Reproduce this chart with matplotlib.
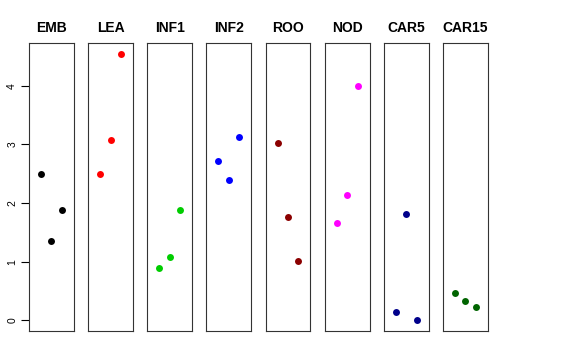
import matplotlib
matplotlib.use("Agg")
import matplotlib.pyplot as plt

# --- data ---
panels = ["EMB", "LEA", "INF1", "INF2", "ROO", "NOD", "CAR5", "CAR15"]
colors = ["#000000", "#FF0000", "#00CD00", "#0000FF", "#8B0000", "#FF00FF", "#00008B", "#006400"]
x_pos = [1, 2, 3]
emb = [2.50, 1.36, 1.89]
lea = [2.50, 3.07, 4.55]
inf1 = [0.89, 1.08, 1.89]
inf2 = [2.71, 2.39, 3.13]
roo = [3.03, 1.76, 1.02]
nod = [1.66, 2.13, 3.99]
car5 = [0.15, 1.81, 0.00]
car15 = [0.47, 0.33, 0.23]
series = [emb, lea, inf1, inf2, roo, nod, car5, car15]
y_ticks = [0, 1, 2, 3, 4]

plt.rcParams['font.family'] = ['Liberation Sans', 'DejaVu Sans']

fig, axes = plt.subplots(1, len(panels), figsize=(5.76, 3.6), dpi=100, sharey=True)
fig.subplots_adjust(left=0.0503, right=0.847, top=0.8806, bottom=0.0806, wspace=0.318)

# R-style 4% padding
all_vals = [v for s in series for v in s]
lo, hi = min(all_vals), max(all_vals)
pad = (hi - lo) * 0.04

for i, (ax, name, vals, col) in enumerate(zip(axes, panels, series, colors)):
    ax.plot(x_pos, vals, 'o', color=col, markersize=5, markeredgewidth=0)
    ax.set_xlim(-0.16, 4.16)
    ax.set_ylim(lo - pad, hi + pad)
    ax.set_xticks([])
    ax.set_title(name, fontsize=10, fontweight='bold', pad=8)
    for sp in ax.spines.values():
        sp.set_linewidth(0.8)
        sp.set_color('#333333')
    if i == 0:
        ax.set_yticks(y_ticks)
        ax.set_yticklabels([str(t) for t in y_ticks], rotation=90, va='center', fontsize=7.5)
        ax.tick_params(axis='y', length=5.5, width=0.8, pad=3)
    else:
        ax.tick_params(axis='y', left=False, labelleft=False)

fig.savefig("out.png", dpi=100)
